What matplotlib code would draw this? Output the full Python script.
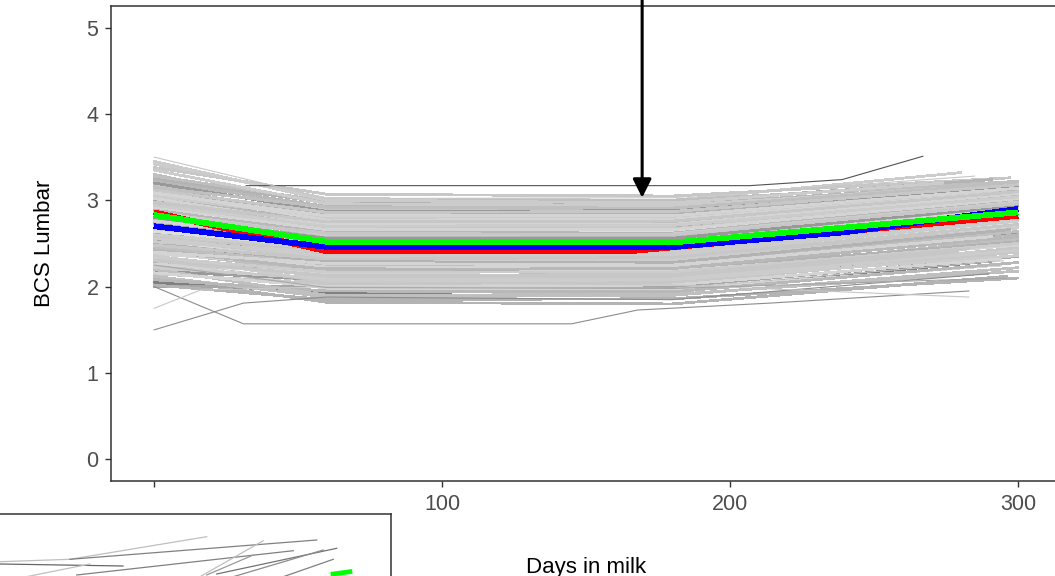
import matplotlib
matplotlib.use("Agg")
import matplotlib.pyplot as plt

plt.rcParams['font.family'] = ['Liberation Sans', 'DejaVu Sans']

# body condition score per cow at day 0, day 60, day 180 and at the last visit
bcs_d0 = [2.95, 2.10, 3.30, 2.55, 3.05, 2.25, 3.42, 2.70, 2.05, 2.85,
          3.15, 2.40, 2.62, 3.22, 2.00, 2.90, 2.48, 3.38, 2.78, 2.20,
          3.00, 2.58, 2.30, 3.12, 2.68, 2.88, 2.12, 3.25, 2.52, 2.82,
          2.35, 3.08, 2.64, 2.98, 2.18, 2.74, 3.18, 2.44, 2.92, 2.60,
          3.28, 2.15, 2.80, 2.50, 3.02, 2.70, 2.28, 3.35, 2.86, 2.56,
          2.95, 2.38, 3.10, 2.66, 2.08, 2.76, 2.46, 3.20, 2.84, 2.32,
          2.90, 2.54, 3.05, 2.72, 2.26, 2.62, 2.98, 2.42, 2.80, 3.45,
          2.20, 2.66, 2.50, 3.10, 2.88, 2.36, 2.74, 2.58, 3.15, 2.02,
          2.60, 2.92, 2.34, 3.02, 2.48, 2.76, 2.22, 3.12, 2.64, 2.86,
          2.40, 2.98, 2.56, 2.70, 2.30, 3.08, 2.52, 2.82, 2.16, 2.94]
bcs_d60 = [2.62, 1.82, 2.88, 2.31, 2.74, 2.05, 3.02, 2.45, 1.93, 2.55,
           2.81, 2.18, 2.38, 2.93, 2.01, 2.67, 2.25, 3.07, 2.49, 2.10,
           2.71, 2.34, 1.98, 2.85, 2.42, 2.59, 1.88, 2.97, 2.28, 2.52,
           2.14, 2.78, 2.40, 2.65, 2.08, 2.47, 2.90, 2.22, 2.69, 2.36,
           2.99, 2.03, 2.57, 2.30, 2.76, 2.44, 2.19, 2.96, 2.61, 2.33,
           2.73, 2.24, 2.83, 2.48, 1.95, 2.54, 2.26, 2.87, 2.64, 2.12,
           2.58, 2.39, 2.80, 2.51, 2.16, 2.43, 2.68, 2.20, 2.56, 3.00,
           1.90, 2.37, 2.29, 2.77, 2.63, 2.06, 2.50, 2.41, 2.92, 1.85,
           2.44, 2.66, 2.17, 2.72, 2.32, 2.53, 2.09, 2.86, 2.46, 2.60,
           2.27, 2.75, 2.35, 2.49, 2.13, 2.82, 2.40, 2.62, 2.00, 2.70]
bcs_d180 = [2.64, 1.80, 2.90, 2.30, 2.71, 2.06, 3.00, 2.47, 1.95, 2.52,
            2.83, 2.16, 2.40, 2.95, 2.00, 2.69, 2.27, 3.05, 2.50, 2.12,
            2.73, 2.33, 1.97, 2.86, 2.44, 2.60, 1.90, 2.98, 2.29, 2.54,
            2.13, 2.80, 2.41, 2.66, 2.10, 2.46, 2.92, 2.24, 2.70, 2.36,
            3.00, 2.04, 2.58, 2.31, 2.77, 2.43, 2.20, 2.94, 2.63, 2.35,
            2.74, 2.23, 2.84, 2.49, 1.94, 2.55, 2.26, 2.88, 2.65, 2.11,
            2.57, 2.38, 2.79, 2.53, 2.18, 2.45, 2.67, 2.21, 2.56, 2.97,
            1.91, 2.39, 2.28, 2.78, 2.62, 2.08, 2.51, 2.42, 2.91, 1.86,
            2.45, 2.66, 2.17, 2.72, 2.34, 2.52, 2.09, 2.87, 2.48, 2.61,
            2.25, 2.76, 2.37, 2.49, 2.14, 2.82, 2.40, 2.60, 2.02, 2.71]
last_day = [300, 296, 290, 300, 285, 300, 280, 298, 292, 300,
            295, 300, 288, 300, 300, 278, 300, 297, 300, 286,
            300, 300, 294, 282, 300, 300, 300, 291, 276, 300,
            300, 300, 293, 300, 271, 300, 287, 300, 300, 299,
            300, 300, 284, 300, 300, 290, 300, 300, 300, 281,
            300, 300, 296, 300, 300, 289, 300, 300, 300, 279,
            300, 300, 293, 300, 300, 300, 286, 300, 300, 274,
            300, 300, 297, 300, 300, 300, 288, 300, 300, 300,
            300, 300, 300, 300, 300, 300, 300, 300, 300, 300,
            291, 300, 300, 300, 283, 300, 300, 300, 294, 300]
bcs_last = [3.02, 2.12, 3.20, 2.70, 3.05, 2.45, 3.32, 2.85, 2.30, 2.95,
            3.15, 2.55, 2.72, 3.20, 2.35, 2.98, 2.62, 3.26, 2.90, 2.40,
            3.10, 2.78, 2.25, 3.12, 2.84, 3.00, 2.22, 3.24, 2.56, 2.92,
            2.50, 3.15, 2.78, 3.05, 2.32, 2.86, 3.18, 2.60, 3.08, 2.74,
            3.22, 2.40, 2.88, 2.68, 3.12, 2.80, 2.52, 3.18, 2.98, 2.62,
            3.06, 2.58, 3.14, 2.88, 2.28, 2.86, 2.64, 3.16, 3.00, 2.40,
            2.96, 2.76, 3.10, 2.90, 2.48, 2.82, 3.00, 2.58, 2.94, 3.20,
            2.18, 2.78, 2.66, 3.10, 3.00, 2.36, 2.84, 2.80, 3.20, 2.10,
            2.82, 3.02, 2.50, 3.08, 2.72, 2.90, 2.42, 3.18, 2.84, 2.98,
            2.58, 3.10, 2.76, 2.88, 2.44, 3.14, 2.76, 2.96, 2.32, 3.04]
cow_grey = [0.78, 0.70, 0.75, 0.83, 0.60, 0.78, 0.80, 0.72, 0.50, 0.80,
            0.70, 0.75, 0.83, 0.72, 0.65, 0.87, 0.60, 0.78, 0.75, 0.80,
            0.65, 0.78, 0.83, 0.72, 0.55, 0.80, 0.75, 0.70, 0.87, 0.72,
            0.78, 0.75, 0.65, 0.83, 0.60, 0.80, 0.78, 0.72, 0.70, 0.87,
            0.75, 0.78, 0.65, 0.80, 0.72, 0.83, 0.70, 0.80, 0.55, 0.78,
            0.75, 0.83, 0.70, 0.78, 0.72, 0.80, 0.75, 0.60, 0.87, 0.78,
            0.72, 0.65, 0.80, 0.75, 0.83, 0.70, 0.78, 0.72, 0.60, 0.80,
            0.75, 0.78, 0.70, 0.83, 0.72, 0.80, 0.65, 0.78, 0.75, 0.70,
            0.80, 0.83, 0.80, 0.83, 0.78, 0.83, 0.80, 0.78, 0.87, 0.80,
            0.83, 0.78, 0.80, 0.87, 0.78, 0.83, 0.80, 0.78, 0.83, 0.80]

# cows with irregular visit days
odd_days = [[32, 207, 239, 267],
            [0, 31, 145, 168, 214, 283],
            [0, 31, 60, 180, 290],
            [0, 16, 60, 180, 295],
            [0, 60, 180, 283],
            [0, 60, 180, 296],
            [0, 60, 180, 285]]
odd_bcs = [[3.17, 3.17, 3.24, 3.51],
           [2.00, 1.57, 1.57, 1.73, 1.81, 1.95],
           [1.50, 1.81, 1.88, 1.85, 2.15],
           [1.75, 1.96, 2.00, 1.98, 2.30],
           [2.30, 2.05, 2.02, 1.88],
           [2.25, 1.99, 1.98, 2.10],
           [3.50, 3.02, 3.03, 3.28]]
odd_grey = [0.32, 0.55, 0.55, 0.78, 0.78, 0.65, 0.78]

# average curves
red_days = [0, 60, 165, 300]
red_bcs = [2.86, 2.41, 2.41, 2.82]
blue_days = [0, 60, 180, 240, 300]
blue_bcs = [2.70, 2.46, 2.46, 2.63, 2.90]
green_days = [0, 60, 183, 300]
green_bcs = [2.83, 2.52, 2.52, 2.86]

arrow_day = 169.5
arrow_bcs = 3.03

x_ticks = [0, 100, 200, 300]
x_tick_labels = ['', '100', '200', '300']
y_ticks = [0, 1, 2, 3, 4, 5]

# second panel (only its top edge shows)
panel2_x = [[10, 80, 216.7], [10, 133], [80, 326.7], [86.7, 303.3], [30, 100],
            [210, 273.3], [216.7, 263.3], [226.7, 346.7], [243.3, 333.3], [293.3, 343.3]]
panel2_y = [[138.3, 140.7, 163.3], [136, 134], [140.7, 160], [125, 149.3], [122, 136],
            [123.3, 159.3], [125, 145], [126, 151.7], [123.3, 150], [123.3, 140.7]]
panel2_grey = [0.75, 0.4, 0.5, 0.5, 0.75, 0.75, 0.6, 0.45, 0.55, 0.5]
panel2_green_x = [343, 360]
panel2_green_y = [126, 128.3]

frame = '#333333'

fig = plt.figure(figsize=(10.55, 5.76), dpi=100)
ax = fig.add_axes([111 / 1055, 95 / 576, 950 / 1055, 475 / 576])

for i in range(len(bcs_d0)):
    ax.plot([0, 60, 180, last_day[i]],
            [bcs_d0[i], bcs_d60[i], bcs_d180[i], bcs_last[i]],
            color=str(cow_grey[i]), lw=1.3, antialiased=False)
for d, b, g in zip(odd_days, odd_bcs, odd_grey):
    ax.plot(d, b, color=str(g), lw=0.8)

ax.plot(red_days, red_bcs, color='red', lw=3.4, solid_capstyle='butt', antialiased=False)
ax.plot(blue_days, blue_bcs, color='blue', lw=3.4, solid_capstyle='butt', antialiased=False)
ax.plot(green_days, green_bcs, color='#00ff00', lw=3.4, solid_capstyle='butt', antialiased=False)

ax.annotate('', xy=(arrow_day, arrow_bcs), xytext=(arrow_day, 5.33),
            annotation_clip=False,
            arrowprops=dict(arrowstyle='-|>', color='black', lw=2.2,
                            mutation_scale=28, shrinkA=0, shrinkB=0))

ax.set_xlim(-15, 315)
ax.set_ylim(-0.25, 5.25)
ax.set_xticks(x_ticks)
ax.set_xticklabels(x_tick_labels)
ax.set_yticks(y_ticks)
ax.tick_params(length=4, width=1, color=frame, labelcolor='#4d4d4d',
               labelsize=15.5, pad=5)
for sp in ax.spines.values():
    sp.set_color(frame)
    sp.set_linewidth(1.1)

fig.text(44 / 1055, 1 - 243.5 / 576, 'BCS Lumbar', rotation=90,
         ha='center', va='center', fontsize=16)
fig.text(586 / 1055, 3 / 576, 'Days in milk', ha='center', va='baseline',
         fontsize=16)

ax2 = fig.add_axes([-10 / 1055, -124 / 576, 401 / 1055, 186 / 576])
for xs, ys, g in zip(panel2_x, panel2_y, panel2_grey):
    ax2.plot(xs, ys, color=str(g), lw=0.9)
ax2.plot(panel2_green_x, panel2_green_y, color='#00ff00', lw=3.4)
ax2.set_xlim(0, 401)
ax2.set_ylim(0, 186)
ax2.set_xticks([])
ax2.set_yticks([])
for sp in ax2.spines.values():
    sp.set_color(frame)
    sp.set_linewidth(1.1)

fig.savefig('out.png', dpi=100)
